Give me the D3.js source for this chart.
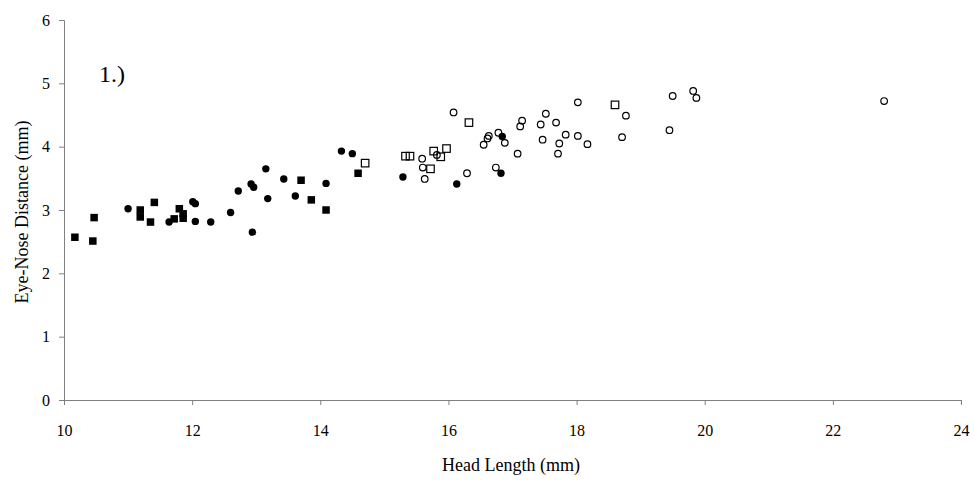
<!DOCTYPE html>
<html>
<head>
<meta charset="utf-8">
<script src="https://cdn.jsdelivr.net/npm/d3@7"></script>
<style>
  body { margin: 0; background: #fff; }
  svg { display: block; }
  .axis path, .axis line { stroke: #808080; }
  .axis text { font-family: "Liberation Serif", "DejaVu Serif", serif; font-size: 16px; fill: #000; }
</style>
</head>
<body>
<div id="chart"></div>
<script>
// Data: [head length, eye-nose distance]
var filledSquares = [[10.17,2.57],[10.45,2.51],[10.47,2.88],[11.19,3.00],[11.19,2.89],[11.41,3.12],[11.35,2.81],
  [11.72,2.86],[11.80,3.02],[11.86,2.94],[11.86,2.87],[13.70,3.47],[13.86,3.16],[14.09,3.00],[14.59,3.58]];

var filledCircles = [[11.00,3.02],[11.64,2.81],[12.01,3.13],[12.05,3.10],[12.05,2.82],[12.29,2.81],[12.60,2.96],
  [12.72,3.30],[12.92,3.41],[12.96,3.36],[12.94,2.65],[13.15,3.65],[13.18,3.18],[13.43,3.49],[13.61,3.22],
  [14.09,3.42],[14.33,3.93],[14.50,3.89],[15.29,3.52],[16.13,3.41],[16.84,4.16],[16.82,3.58]];

var openSquares = [[14.70,3.74],[15.33,3.85],[15.40,3.85],[15.72,3.65],[15.77,3.93],[15.88,3.84],[15.97,3.97],
  [16.32,4.38],[18.60,4.66]];

var openCircles = [[15.59,3.81],[15.60,3.67],[15.63,3.49],[15.82,3.87],[16.08,4.54],[16.29,3.58],[16.55,4.03],
  [16.61,4.13],[16.63,4.17],[16.78,4.22],[16.88,4.06],[16.74,3.67],[17.08,3.89],[17.12,4.32],[17.15,4.41],
  [17.44,4.35],[17.47,4.11],[17.52,4.52],[17.68,4.38],[17.71,3.89],[17.73,4.05],[17.83,4.19],[18.02,4.70],
  [18.02,4.17],[18.17,4.04],[18.71,4.15],[18.77,4.49],[19.45,4.26],[19.50,4.80],[19.82,4.88],[19.87,4.77],
  [22.80,4.72]];

var xTicks = [10, 12, 14, 16, 18, 20, 22, 24];
var yTicks = [0, 1, 2, 3, 4, 5, 6];

// Layout
var width = 974, height = 480;
var margin = {top: 20, right: 13, bottom: 80, left: 64};
var plotW = width - margin.left - margin.right;
var plotH = height - margin.top - margin.bottom;

var svg = d3.select("#chart")
    .append("svg")
    .attr("width", width)
    .attr("height", height);

var g = svg.append("g")
    .attr("transform", "translate(" + margin.left + "," + margin.top + ")");

var xScale = d3.scaleLinear().domain([10, 24]).range([0, plotW]);
var yScale = d3.scaleLinear().domain([0, 6]).range([plotH, 0]);

// Axes
g.append("g")
    .attr("class", "axis")
    .attr("transform", "translate(0," + plotH + ")")
    .call(d3.axisBottom(xScale).tickValues(xTicks).tickFormat(d3.format("d"))
        .tickSize(5).tickSizeOuter(5).tickPadding(20));

g.append("g")
    .attr("class", "axis")
    .call(d3.axisLeft(yScale).tickValues(yTicks).tickFormat(d3.format("d"))
        .tickSize(5).tickSizeOuter(5).tickPadding(9));

// Axis titles
svg.append("text")
    .attr("x", 511)
    .attr("y", 471)
    .attr("text-anchor", "middle")
    .attr("font-family", "Liberation Serif, serif")
    .attr("font-size", "18px")
    .text("Head Length (mm)");

svg.append("text")
    .attr("transform", "translate(28,212) rotate(-90)")
    .attr("text-anchor", "middle")
    .attr("font-family", "Liberation Serif, serif")
    .attr("font-size", "18px")
    .text("Eye-Nose Distance (mm)");

// Panel label
svg.append("text")
    .attr("x", 99)
    .attr("y", 82)
    .attr("font-family", "Liberation Serif, serif")
    .attr("font-size", "24px")
    .text("1.)");

// Markers
var sq = 7.5;

g.selectAll(".fsq")
    .data(filledSquares)
    .enter().append("rect")
    .attr("class", "fsq")
    .attr("x", function(d) { return xScale(d[0]) - sq / 2; })
    .attr("y", function(d) { return yScale(d[1]) - sq / 2; })
    .attr("width", sq)
    .attr("height", sq)
    .attr("fill", "#000");

g.selectAll(".fci")
    .data(filledCircles)
    .enter().append("circle")
    .attr("class", "fci")
    .attr("cx", function(d) { return xScale(d[0]); })
    .attr("cy", function(d) { return yScale(d[1]); })
    .attr("r", 3.7)
    .attr("fill", "#000");

g.selectAll(".osq")
    .data(openSquares)
    .enter().append("rect")
    .attr("class", "osq")
    .attr("x", function(d) { return xScale(d[0]) - sq / 2; })
    .attr("y", function(d) { return yScale(d[1]) - sq / 2; })
    .attr("width", sq)
    .attr("height", sq)
    .attr("fill", "none")
    .attr("stroke", "#000")
    .attr("stroke-width", 1.2);

g.selectAll(".oci")
    .data(openCircles)
    .enter().append("circle")
    .attr("class", "oci")
    .attr("cx", function(d) { return xScale(d[0]); })
    .attr("cy", function(d) { return yScale(d[1]); })
    .attr("r", 3.3)
    .attr("fill", "none")
    .attr("stroke", "#000")
    .attr("stroke-width", 1.2);
</script>
</body>
</html>
